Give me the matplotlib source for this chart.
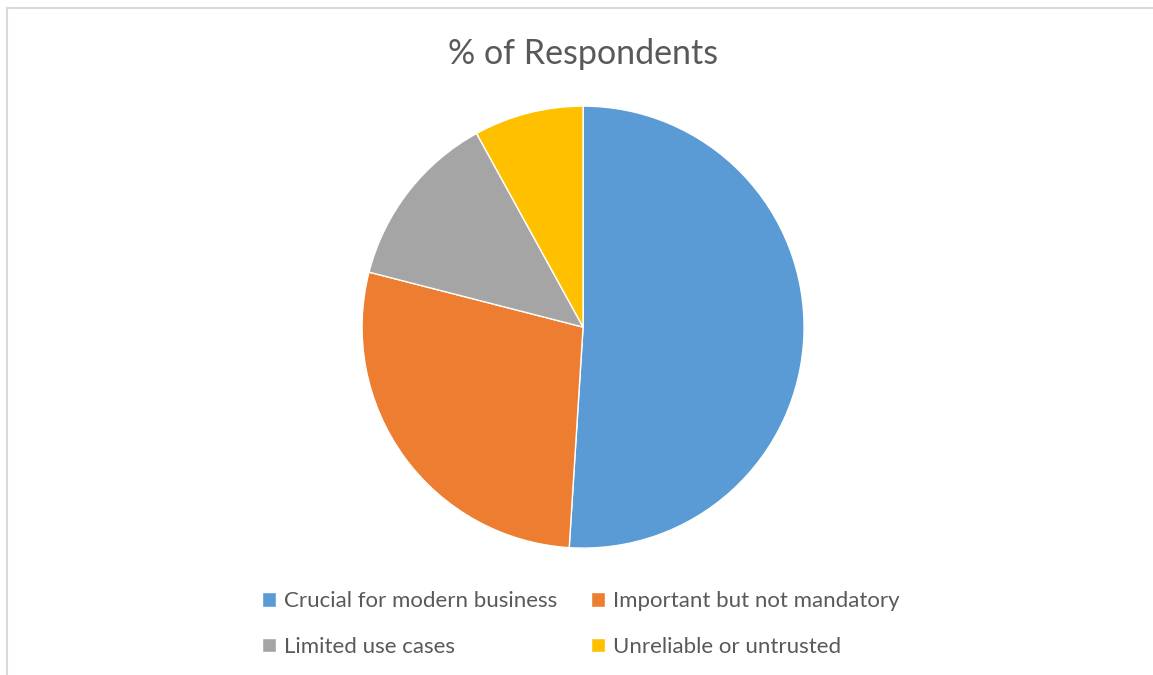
import matplotlib.pyplot as plt
from matplotlib.lines import Line2D

labels = ["Crucial for modern business", "Important but not mandatory",
          "Limited use cases", "Unreliable or untrusted"]
values = [51, 28, 13, 8]
colors = ["#5B9BD5", "#ED7D31", "#A5A5A5", "#FFC000"]

plt.rcParams['font.family'] = ['Lato', 'DejaVu Sans']

fig = plt.figure(figsize=(11.53, 6.75), dpi=100)
ax = fig.add_axes([0.314, 0.188, 0.3834, 0.6548])
wedges, _ = ax.pie(values, colors=colors, startangle=90, counterclock=False,
                   wedgeprops=dict(edgecolor='white', linewidth=1))
ax.set_xlim(-1, 1)
ax.set_ylim(-1, 1)
ax.set_aspect('equal')

fig.text(0.5056, 1 - 54 / 675, "% of Respondents", ha='center', va='center',
         fontsize=24.5, color='#595959')

# frame lines (top and left) like the screenshot
fig.add_artist(Line2D([7 / 1153, 1], [1 - 8 / 675, 1 - 8 / 675], color='#D9D9D9', lw=1.5))
fig.add_artist(Line2D([7 / 1153, 7 / 1153], [0, 1 - 8 / 675], color='#D9D9D9', lw=1.5))

# legend reads row by row: reorder for matplotlib's column-major fill
order = [0, 2, 1, 3]
leg = fig.legend([wedges[i] for i in order], [labels[i] for i in order], ncol=2,
                 loc='center', bbox_to_anchor=(0.5035, 1 - 624 / 675),
                 frameon=False, fontsize=16, handlelength=0.65, handleheight=0.65,
                 handletextpad=0.35, columnspacing=1.5, labelspacing=1.15)
for t in leg.get_texts():
    t.set_color('#595959')

fig.savefig("out.png", dpi=100, facecolor='white')
